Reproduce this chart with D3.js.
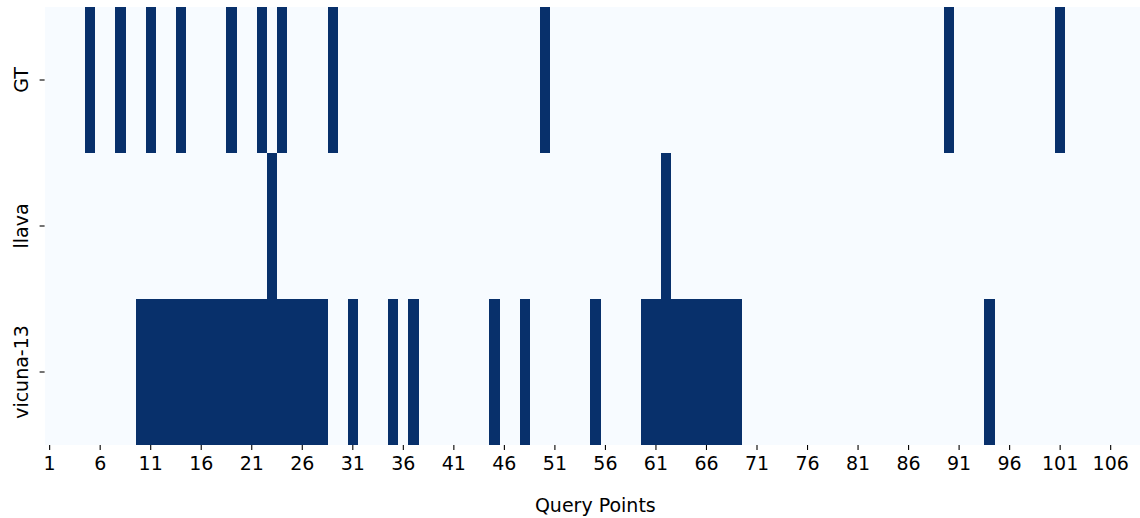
<!DOCTYPE html>
<html>
<head>
<meta charset="utf-8">
<script src="https://cdn.jsdelivr.net/npm/d3@7"></script>
<style>
  body { margin: 0; background: #fff; }
  svg text { font-family: "DejaVu Sans", sans-serif; }
</style>
</head>
<body>
<div id="chart"></div>
<script>
// query point ids along the x axis
const queryPoints = d3.range(1, 110);
const models = ["GT", "llava", "vicuna-13"];

// query points marked 1 for each row, everything else is 0
const gtHits = [5, 8, 11, 14, 19, 22, 24, 29, 50, 90, 101];
const llavaHits = [23, 62];
const vicunaHits = [10, 11, 12, 13, 14, 15, 16, 17, 18, 19, 20, 21, 22, 23, 24, 25, 26, 27, 28,
  31, 35, 37, 45, 48, 55, 60, 61, 62, 63, 64, 65, 66, 67, 68, 69, 94];

const xTickLabels = [1, 6, 11, 16, 21, 26, 31, 36, 41, 46, 51, 56, 61, 66, 71, 76, 81, 86, 91, 96, 101, 106];

const hitsByModel = new Map([["GT", gtHits], ["llava", llavaHits], ["vicuna-13", vicunaHits]]);

const cells = [];
models.forEach(m => {
  const hits = new Set(hitsByModel.get(m));
  queryPoints.forEach(q => cells.push({model: m, q: q, v: hits.has(q) ? 1 : 0}));
});

const width = 1140, height = 518;
const margin = {top: 7, left: 44.6, bottom: 73};
const cellW = 10.105;

const x = d3.scaleBand()
  .domain(queryPoints)
  .range([margin.left, margin.left + queryPoints.length * cellW]);

const y = d3.scaleBand()
  .domain(models)
  .range([margin.top, height - margin.bottom]);

const color = d3.scaleSequential(d3.interpolateBlues).domain([0, 1]);

const svg = d3.select("#chart").append("svg")
  .attr("width", width)
  .attr("height", height);

// light cells first, dark on top
svg.append("g")
  .attr("shape-rendering", "crispEdges")
  .selectAll("rect")
  .data(cells.slice().sort((a, b) => a.v - b.v))
  .join("rect")
    .attr("x", d => x(d.q))
    .attr("y", d => y(d.model))
    .attr("width", x.bandwidth() + 0.2)
    .attr("height", y.bandwidth() + 0.2)
    .attr("fill", d => color(d.v));

const fontSize = 19;

// x axis
svg.append("g")
  .attr("transform", `translate(0,${height - margin.bottom})`)
  .call(d3.axisBottom(x).tickValues(xTickLabels).tickSize(5).tickPadding(7))
  .call(g => g.select(".domain").remove())
  .call(g => g.selectAll(".tick line").attr("stroke", "#000").attr("stroke-width", 1.1))
  .call(g => g.selectAll(".tick text")
    .attr("fill", "#000")
    .attr("font-size", fontSize)
    .attr("font-family", "DejaVu Sans"));

// y axis with rotated labels
svg.append("g")
  .attr("transform", `translate(${margin.left},0)`)
  .call(d3.axisLeft(y).tickSize(5))
  .call(g => g.select(".domain").remove())
  .call(g => g.selectAll(".tick line").attr("stroke", "#000").attr("stroke-width", 1.1))
  .call(g => g.selectAll(".tick text")
    .attr("x", 0)
    .attr("y", 0)
    .attr("dy", 0)
    .attr("text-anchor", "middle")
    .attr("transform", "translate(-16.4,0) rotate(-90)")
    .attr("fill", "#000")
    .attr("font-size", fontSize)
    .attr("font-family", "DejaVu Sans"));

// axis title
svg.append("text")
  .attr("x", (x.range()[0] + x.range()[1]) / 2)
  .attr("y", 512)
  .attr("text-anchor", "middle")
  .attr("font-size", fontSize)
  .attr("fill", "#000")
  .text("Query Points");
</script>
</body>
</html>
